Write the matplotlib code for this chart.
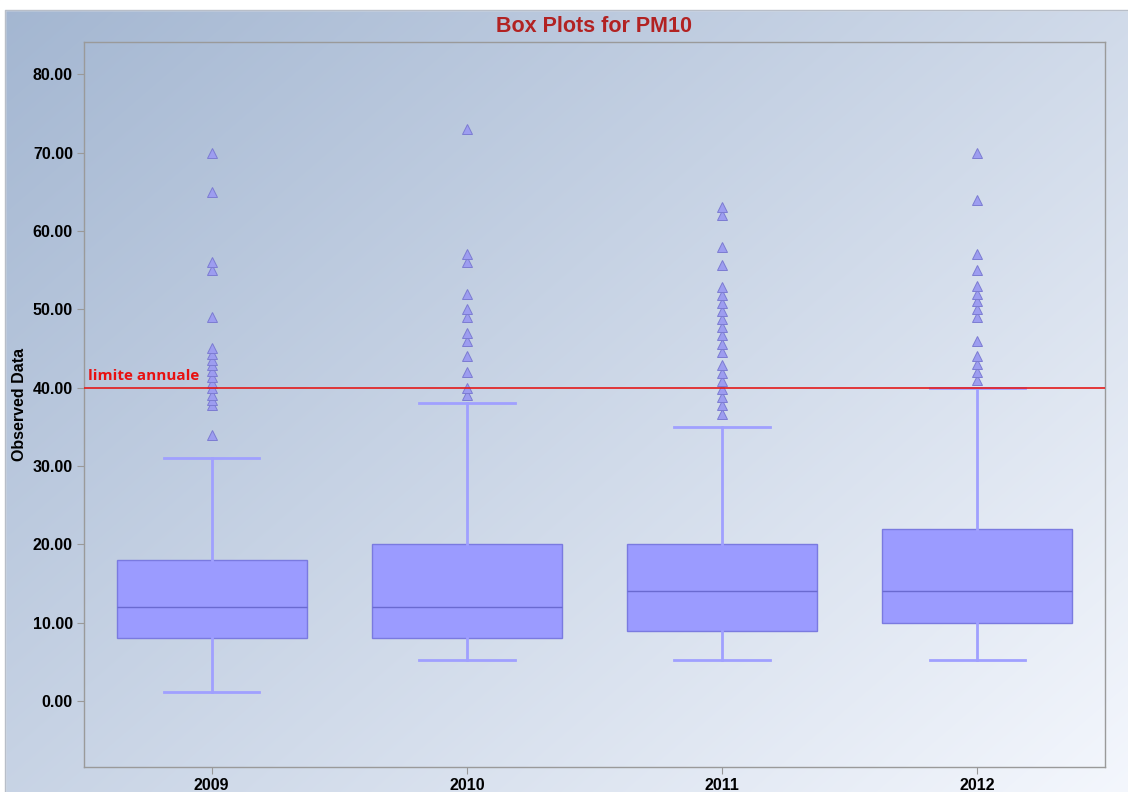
import numpy as np
import matplotlib
matplotlib.use("Agg")
import matplotlib.pyplot as plt
from matplotlib.patches import Rectangle

# Yearly PM10 summaries
years = ["2009", "2010", "2011", "2012"]
whisker_low = [1.2, 5.2, 5.2, 5.2]
q1 = [8.0, 8.0, 9.0, 10.0]
medians = [12.0, 12.0, 14.0, 14.0]
q3 = [18.0, 20.0, 20.0, 22.0]
whisker_high = [31.0, 38.0, 35.0, 40.0]

outliers_2009 = [34, 37.8, 38.4, 39.0, 39.9, 40.6, 41.4, 42.1, 42.9, 43.5, 44.3, 45.0, 49, 55, 56, 65, 70]
outliers_2010 = [39, 40, 42, 44, 46, 47, 49, 50, 52, 56, 57, 73]
outliers_2011 = [36.7, 37.8, 38.8, 39.8, 40.8, 41.9, 42.9, 44.6, 45.6, 46.7, 47.7, 48.8, 49.8,
                 50.8, 51.8, 52.8, 55.7, 57.9, 62, 63]
outliers_2012 = [41, 42, 43, 44, 46, 49, 50, 51, 52, 53, 55, 57, 64, 70]
outliers = [outliers_2009, outliers_2010, outliers_2011, outliers_2012]

annual_limit = 40.0
limit_label = "limite annuale"

fig = plt.figure(figsize=(11.28, 7.92), dpi=100)

# Diagonal gradient backdrop panel
bg = fig.add_axes([0, 0, 1, 1], zorder=-10)
bg.set_axis_off()
W, H = 1128, 792
yy, xx = np.mgrid[0:H, 0:W]
t = (xx / W * 0.55 + yy / H * 0.45)
c0 = np.array([163, 182, 209]) / 255.0
c1 = np.array([244, 247, 253]) / 255.0
img = c0[None, None, :] * (1 - t[..., None]) + c1[None, None, :] * t[..., None]
bg.imshow(img, extent=[0, W, H, 0], aspect="auto", interpolation="bilinear")
bg.set_xlim(0, W)
bg.set_ylim(H, 0)
# white margins on the top and left
bg.add_patch(Rectangle((0, 0), W, 10, color="white", zorder=2))
bg.add_patch(Rectangle((0, 0), 5, H, color="white", zorder=2))
bg.plot([5, 5, W], [H, 10, 10], color="#b8bec8", lw=1, zorder=3)

ax = fig.add_axes([84 / W, 1 - 767 / H, (1105 - 84) / W, (767 - 42) / H])
ax.patch.set_alpha(0)

stats = []
for i in range(len(years)):
    stats.append(dict(whislo=whisker_low[i], q1=q1[i], med=medians[i], q3=q3[i],
                      whishi=whisker_high[i], fliers=outliers[i], label=years[i]))

box_face = "#9b9bff"
box_edge = "#7a7ae0"
line_c = "#a0a0ff"
ax.bxp(stats, positions=range(len(years)), widths=0.745, patch_artist=True,
       boxprops=dict(facecolor=box_face, edgecolor=box_edge, linewidth=1.0),
       medianprops=dict(color="#6a6ad0", linewidth=1.0),
       whiskerprops=dict(color=line_c, linewidth=2.0),
       capprops=dict(color=line_c, linewidth=2.0),
       capwidths=0.375,
       flierprops=dict(marker="^", markersize=7.5, markerfacecolor="#9d9df0",
                       markeredgecolor="#7c7cd2", markeredgewidth=0.7, linestyle="none"),
       zorder=3)

ax.axhline(annual_limit, color="#e41a1a", lw=1.2, zorder=4)
ax.text(-0.485, annual_limit + 0.55, limit_label, color="#e81010", fontsize=11,
        fontweight="bold", family="Open Sans", va="bottom", ha="left")

ax.set_xlim(-0.5, 3.5)
ax.set_ylim(-8.4, 84.1)
ax.set_yticks(np.arange(0, 81, 10))
ax.set_yticklabels([f"{v:.2f}" for v in np.arange(0, 81, 10)])
ax.set_xticks(range(len(years)))
ax.set_xticklabels(years)
for lab in ax.get_xticklabels() + ax.get_yticklabels():
    lab.set_fontweight("bold")
    lab.set_fontsize(11.5)
    lab.set_family("Liberation Sans")
ax.tick_params(axis="both", length=5, color="#999999", pad=3)
for s in ax.spines.values():
    s.set_color("#9a9a9a")
    s.set_linewidth(1.0)

ax.set_ylabel("Observed Data", fontsize=11.5, fontweight="bold", family="Liberation Sans", labelpad=4)
ax.set_title("Box Plots for PM10", color="#b22222", fontsize=15.5, fontweight="bold",
             family="Liberation Sans", pad=7)

fig.savefig("out.png", dpi=100)
